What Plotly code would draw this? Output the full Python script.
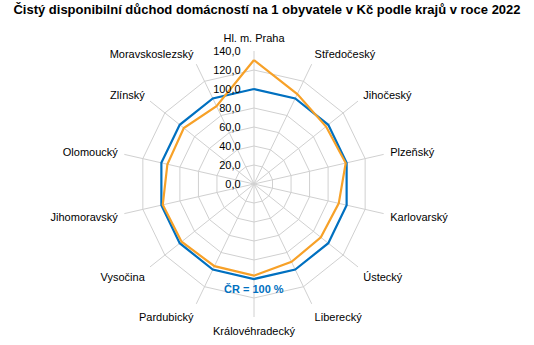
import plotly.graph_objects as go

categories = ["Hl. m. Praha", "Středočeský", "Jihočeský", "Plzeňský", "Karlovarský",
              "Ústecký", "Liberecký", "Královéhradecký", "Pardubický", "Vysočina",
              "Jihomoravský", "Olomoucký", "Zlínský", "Moravskoslezský"]
cr_values = [100.0] * 14
region_values = [130.5, 105.0, 97.0, 99.0, 91.5, 90.0, 91.0, 96.5, 96.0, 97.5, 98.5, 93.5, 94.5, 91.0]
radial_ticks = [0, 20, 40, 60, 80, 100, 120, 140]

theta = categories + categories[:1]

fig = go.Figure()
fig.add_trace(go.Scatterpolar(r=cr_values + cr_values[:1], theta=theta, mode="lines",
                              line=dict(color="#0070C0", width=2.2), name="ČR"))
fig.add_trace(go.Scatterpolar(r=region_values + region_values[:1], theta=theta, mode="lines",
                              line=dict(color="#F7A128", width=2.2), name="kraje"))

fig.update_layout(
    width=534, height=345,
    margin=dict(l=0, r=0, t=0, b=0),
    paper_bgcolor="white",
    showlegend=False,
    separators=", ",
    font=dict(family="Liberation Sans, Arial, sans-serif", size=11, color="#000000"),
    title=dict(text="<b>Čistý disponibilní důchod domácností na 1 obyvatele v Kč podle krajů v roce 2022</b>",
               x=0.5, xanchor="center", y=0.985, yanchor="top",
               font=dict(size=13, color="#000000")),
    polar=dict(
        domain=dict(x=[121/534, 387/534], y=[28/345, 294/345]),
        bgcolor="white",
        gridshape="linear",
        angularaxis=dict(direction="clockwise", rotation=90, showline=False,
                         gridcolor="#D0D0D0", gridwidth=1,
                         ticks="outside", ticklen=4, tickcolor="rgba(0,0,0,0)",
                         tickfont=dict(size=11, color="#000000")),
        radialaxis=dict(range=[0, 140], tickvals=radial_ticks, tickformat=".1f",
                        angle=90, tickangle=90, side="counterclockwise",
                        showline=False, ticks="outside", ticklen=9,
                        tickcolor="rgba(0,0,0,0)", gridcolor="#D0D0D0", gridwidth=1,
                        tickfont=dict(size=11, color="#000000")),
    ),
    annotations=[dict(text="<b>ČR = 100 %</b>", x=254/534, y=(345-297)/345,
                      xref="paper", yref="paper", showarrow=False,
                      font=dict(size=11, color="#0070C0"))],
)

fig.write_html("out.html")
